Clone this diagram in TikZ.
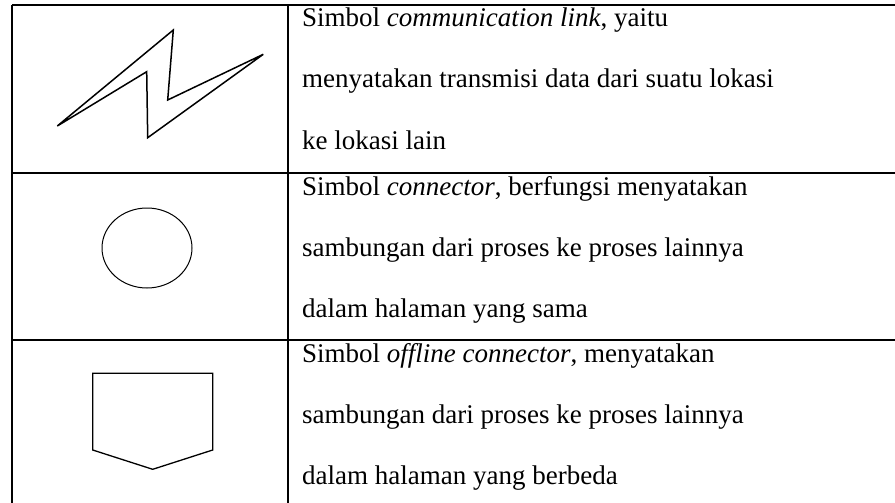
\documentclass[tikz,border=0pt]{standalone}
\usepackage{fontspec}
\setmainfont{Liberation Serif}
\begin{document}
\begin{tikzpicture}[x=1pt,y=-1pt,
  cell/.style={anchor=base west, inner sep=0pt, font=\fontsize{27}{30}\selectfont},
  rule/.style={line width=2pt},
  symbolline/.style={line width=1.5pt, line join=miter}]
\useasboundingbox (0,0) rectangle (895,503);
\clip (0,0) rectangle (895,503);

% table
\coordinate (TL) at (12,5);
\coordinate (TM) at (288,5);
\coordinate (TR) at (905,5);
\coordinate (BL) at (12,510);
\coordinate (BM) at (288,510);

\draw[rule] (TL) -- (TR);
\draw[rule] (12,173) -- (905,173);
\draw[rule] (12,340) -- (905,340);
\draw[rule] (TL) -- (BL);
\draw[rule] (TM) -- (BM);

% communication link
\coordinate (A) at (57.3,126);
\coordinate (B) at (173.3,30);
\coordinate (C) at (167.7,100);
\coordinate (D) at (263.3,54.3);
\coordinate (E) at (147.7,137.7);
\coordinate (F) at (146.7,71.7);
\draw[symbolline] (A) -- (B) -- (C) -- (D) -- (E) -- (F) -- cycle;

% connector
\draw[line width=1pt] (147,248) ellipse [x radius=45pt, y radius=40pt];

% offline connector
\coordinate (P) at (92.7,373.3);
\coordinate (Q) at (212.7,373.3);
\coordinate (R) at (212.7,450);
\coordinate (S) at (152.7,469.3);
\coordinate (T) at (92.7,450);
\draw[line width=1.3pt] (P) -- (Q) -- (R) -- (S) -- (T) -- cycle;

% texts
\node[cell] (linkA) at (302,27) {Simbol \textit{communication link}, yaitu};
\node[cell] (linkB) at (302,88) {menyatakan transmisi data dari suatu lokasi};
\node[cell] (linkC) at (302,149) {ke lokasi lain};

\node[cell] (connA) at (302,195) {Simbol \textit{connector}, berfungsi menyatakan};
\node[cell] (connB) at (302,256) {sambungan dari proses ke proses lainnya};
\node[cell] (connC) at (302,317) {dalam halaman yang sama};

\node[cell] (offA) at (302,362) {Simbol \textit{offline connector}, menyatakan};
\node[cell] (offB) at (302,423) {sambungan dari proses ke proses lainnya};
\node[cell] (offC) at (302,484) {dalam halaman yang berbeda};
\end{tikzpicture}
\end{document}
